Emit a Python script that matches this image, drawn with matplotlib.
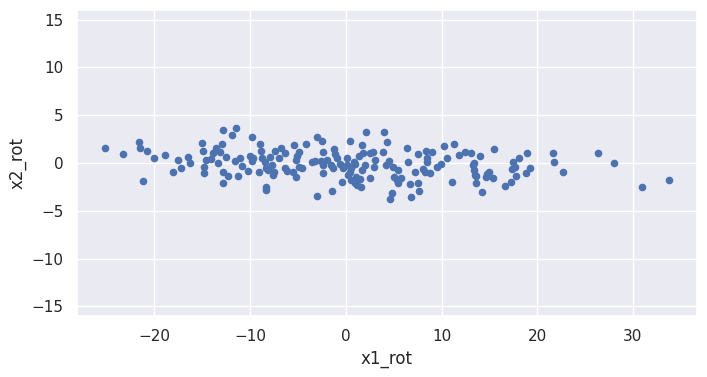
import matplotlib
matplotlib.use("Agg")
import matplotlib.pyplot as plt
import seaborn as sns
import pandas as pd

sns.set_theme()

x1_rot = [
    -25.15, -23.3, -21.6, -21.5, -20.8, -20.1, -18.95, -17.5, -16.5, -16.3, -17.2, -18.1, -21.15,
    -12.8, -11.5, -11.95, -15.0, -14.9, -13.6, -12.9, -13.2, -13.9, -14.6, -14.1, -13.4, -12.5,
    -14.8, -14.8, -12.8, -12.3, -12.8, -11.25, -11.6, -11.05, -10.9, -10.2, -9.86, -10.07, -9.86,
    -9.7, -9.0, -8.9, -9.06, -8.8, -8.5, -8.3, -7.9, -7.7, -8.15, -7.6, -7.46, -8.3, -8.3, -7.4,
    -6.76, -7.0, -6.4, -6.4, -6.1, -5.37, -4.88, -5.1, -5.2, -4.95, -5.5, -5.2, -4.6, -4.15, -3.55,
    -3.2, -2.97, -2.5, -2.4, -2.6, -2.34, -2.4, -1.99, -1.22, -1.12, -1.57, -1.3, -0.88, -0.6,
    -2.97, -1.4, -0.36, -0.25, 0.1, 0.45, 0.1, 0.55, 0.8, 0.27, 0.52, 1.08, 0.97, 1.42, 1.84, 1.73,
    2.12, 2.47, 2.02, 1.67, 2.89, 2.54, 1.5, 1.21, 1.6, 1.0, 2.82, 0.45, 3.0,
    4.03, 4.35, 3.83, 4.52, 4.18, 4.97, 5.5, 5.05, 5.33, 5.75, 5.4, 4.87, 4.63, 6.44, 6.54, 6.72,
    6.82, 7.24, 7.52, 7.59, 7.66, 8.05, 8.39, 8.46, 8.46, 8.29, 8.81, 9.05, 9.5, 9.93, 10.3, 10.58,
    11.35, 11.14, 11.87, 12.47, 13.1, 13.3, 13.4, 13.45,
    14.03, 15.5, 13.4, 13.6, 13.55, 14.27, 15.0, 14.6, 14.7, 15.4, 16.65, 17.3, 17.5, 17.35, 17.7,
    17.77, 18.14, 18.98, 19.2, 18.8, 21.6, 21.8, 22.7,
    26.3, 28.07, 31.0, 33.8,
]
x2_rot = [
    1.6, 0.9, 2.2, 1.6, 1.3, 0.56, 0.8, 0.35, 0.66, -0.03, -0.5, -0.97, -1.9,
    3.4, 3.7, 2.96, 2.05, 1.3, 1.6, 1.95, 1.1, 1.04, 0.35, 0.4, -0.03, 0.66,
    -0.45, -1.07, -0.9, -1.4, -2.1, -1.4, 0.18, 0.56, -0.27, -0.8, 2.68, 0.73, 0.25,
    0.5, 1.95, 1.3, -0.9, 0.49, 0.14, -0.48, 0.6, -0.2, -0.69, -1.25, -0.9, -2.46, -2.8, 1.3,
    1.53, 0.49, 1.0, -0.48, -0.8, 1.88, 1.19, 0.77, 0.31, -0.38, -0.9, -1.42, -0.48, 1.95, 0.07,
    0.25, 2.68, 2.33, 1.19, 0.21, -0.2, -1.07, 0.31, 1.43, 0.94, -0.2, -0.48, 0.56, -0.1,
    -3.4, -2.9, -1.94, -0.55, 0.56, 2.33, -0.2, -0.55, 0.14, -1.3, -1.77, -1.42, -0.13, 0.77, 1.0, 1.88,
    3.2, 1.08, -0.2, -0.73, -0.38, -1.52, -1.7, -2.3, -2.46, -2.1, 1.19, -0.9, 0.3,
    3.27, 2.23, 1.19, 0.25, -0.17, -0.38, -0.73, -1.42, -1.77, -1.6, -2.1, -3.16, -3.78, 1.6, 0.14, -2.2,
    -3.57, -0.9, 0.9, -2.1, -2.9, -0.62, 1.29, 0.49, 0.14, -0.9, -1.07, 1.19, -0.38, -0.1, 1.81, 0.56,
    2.02, -2.0, 0.83, 1.19, 1.0, -0.2, -0.7, -1.3,
    0.77, 1.46, -0.03, -1.32, -2.1, -3.05, -0.97, -1.42, -1.18, -1.6, -2.36, -2.0, 0.14, -0.66, -0.38,
    -1.32, 0.49, 1.08, -0.48, -1.07, 1.0, 0.14, -0.9,
    1.08, 0.04, -2.56, -1.73,
]

df = pd.DataFrame({"x1_rot": x1_rot, "x2_rot": x2_rot})

fig = plt.figure(figsize=(7.07, 3.77), dpi=100)
ax = fig.add_axes([0.1089, 0.1618, 0.8770, 0.8117])
ax.scatter(df["x1_rot"], df["x2_rot"], s=20, color="#4C72B0")
ax.set_xlim(-28.1, 36.7)
ax.set_ylim(-16, 16)
ax.set_xticks([-20, -10, 0, 10, 20, 30])
ax.set_yticks([-15, -10, -5, 0, 5, 10, 15])
ax.set_xlabel("x1_rot")
ax.set_ylabel("x2_rot")
fig.savefig("out.png", dpi=100)
